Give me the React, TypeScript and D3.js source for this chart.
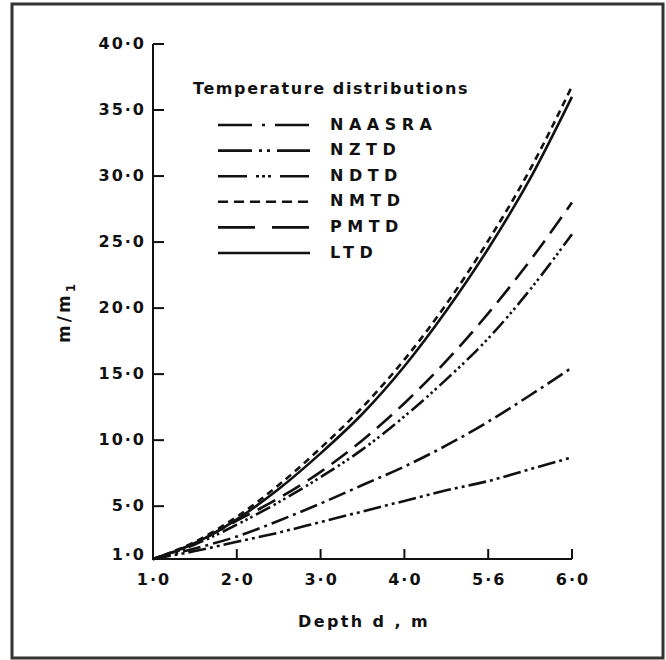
import React from "react";
import * as d3 from "d3";

// depth values (x) shared by all series
const depths = [1, 1.5, 2, 2.5, 3, 3.5, 4, 4.5, 5, 5.5, 6];

const naasra = [1, 1.8, 2.7, 3.9, 5.2, 6.6, 8.0, 9.6, 11.4, 13.4, 15.5];
const nztd = [1, 1.6, 2.3, 3.0, 3.8, 4.6, 5.4, 6.2, 6.9, 7.8, 8.7];
const ndtd = [1, 2.1, 3.6, 5.3, 7.2, 9.3, 11.8, 14.6, 17.7, 21.4, 25.6];
const nmtd = [1, 2.3, 4.2, 6.6, 9.4, 12.5, 16.1, 20.3, 25.1, 30.5, 36.8];
const pmtd = [1, 2.2, 3.9, 5.6, 7.6, 10.0, 12.8, 16.0, 19.6, 23.6, 28.0];
const ltd = [1, 2.2, 4.0, 6.3, 9.0, 12.0, 15.6, 19.8, 24.5, 29.8, 36.0];

const xTicks = [1, 2, 3, 4, 5, 6];
const xTickLabels = ["1·0", "2·0", "3·0", "4·0", "5·6", "6·0"];
const yTicks = [1, 5, 10, 15, 20, 25, 30, 35, 40];
const yTickLabels = ["1·0", "5·0", "10·0", "15·0", "20·0", "25·0", "30·0", "35·0", "40·0"];

const seriesNames = ["NAASRA", "NZTD", "NDTD", "NMTD", "PMTD", "LTD"];
const seriesValues = [naasra, nztd, ndtd, nmtd, pmtd, ltd];
const curveDash = ["18 5 3 5", "18 4 3 4 3 4", "16 4 2.5 3 2.5 3 2.5 4", "7 5", "20 9", "none"];
const legendDash = ["34 10 3 10", "34 7 3 5 3 7", "29 9 3 3 3 3 3 9", "10 6", "37 17", "none"];

const font = "'DejaVu Sans', 'Liberation Sans', sans-serif";
const ink = "#111";

export default function App() {
  const W = 666;
  const H = 660;
  const x = d3.scaleLinear().domain([1, 6]).range([153, 572]);
  const y = d3.scaleLinear().domain([1, 40]).range([559, 44]);

  const line = d3
    .line<number>()
    .x((_, i) => x(depths[i]))
    .y((d) => y(d))
    .curve(d3.curveMonotoneX);

  return (
    <svg width={W} height={H} style={{ position: "absolute", left: 0, top: 0, background: "#fff" }}>
      <rect x={12} y={4} width={651} height={654} fill="#fff" stroke="#333" strokeWidth={3} />

      {/* axes */}
      <path d={`M${x(1)},${y(40)}V${y(1)}H${x(6)}`} fill="none" stroke={ink} strokeWidth={2} />
      {yTicks.slice(1).map((t) => (
        <line key={t} x1={x(1)} x2={x(1) + 11} y1={y(t)} y2={y(t)} stroke={ink} strokeWidth={2} />
      ))}
      {xTicks.slice(1).map((t) => (
        <line key={t} x1={x(t)} x2={x(t)} y1={y(1)} y2={y(1) - 10} stroke={ink} strokeWidth={2} />
      ))}

      <g fontFamily={font} fontWeight="bold" fontSize={16} fill={ink} letterSpacing={2}>
        {yTicks.map((t, i) => (
          <text key={t} x={x(1) - 7} y={y(t) - (t === 1 ? 4 : 0)} textAnchor="end" dominantBaseline="middle">
            {yTickLabels[i]}
          </text>
        ))}
        {xTicks.map((t, i) => (
          <text key={t} x={x(t) + 1} y={585} textAnchor="middle">
            {xTickLabels[i]}
          </text>
        ))}
        <text x={364} y={627} textAnchor="middle" letterSpacing={2.4}>
          Depth d , m
        </text>
        <text transform="translate(70,312) rotate(-90)" textAnchor="middle" fontSize={17} letterSpacing={3}>
          m/m<tspan fontSize={12} dy={5}>1</tspan>
        </text>
      </g>

      {/* curves */}
      {seriesValues.map((vals, i) => (
        <path
          key={seriesNames[i]}
          d={line(vals) || ""}
          fill="none"
          stroke={ink}
          strokeWidth={2.6}
          strokeDasharray={curveDash[i]}
        />
      ))}

      {/* legend */}
      <g fontFamily={font} fontWeight="bold" fill={ink}>
        <text x={193} y={94} fontSize={16} letterSpacing={1.6}>
          Temperature distributions
        </text>
        {seriesNames.map((n, i) => {
          const ly = 125 + i * 25.6;
          return (
            <g key={n}>
              <line x1={218} x2={310} y1={ly} y2={ly} stroke={ink} strokeWidth={2.6} strokeDasharray={legendDash[i]} />
              <text x={330} y={ly} dominantBaseline="middle" fontSize={16} letterSpacing={5.5}>
                {n}
              </text>
            </g>
          );
        })}
      </g>
    </svg>
  );
}
